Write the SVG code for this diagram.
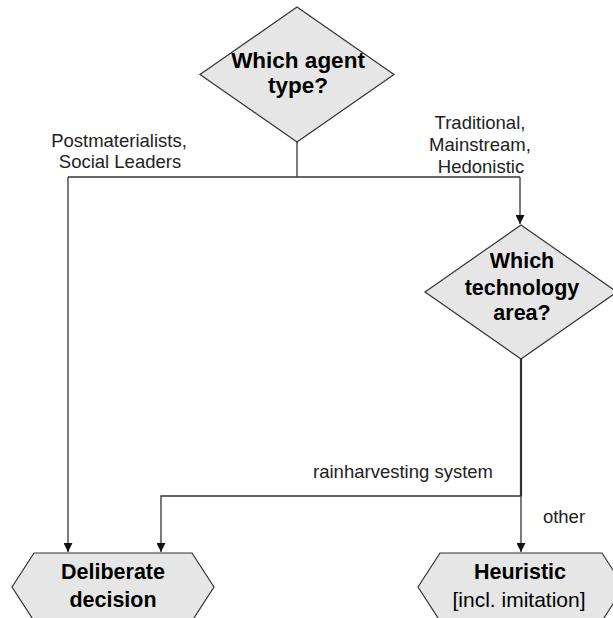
<svg xmlns="http://www.w3.org/2000/svg" width="613" height="618" viewBox="0 0 613 618">
<style>
.shape{fill:#e6e6e6;stroke:#333;stroke-width:1.2}
.b{font-family:"Liberation Sans",Arial,sans-serif;font-weight:bold;font-size:21.5px;fill:#000;text-anchor:middle}
.r{font-family:"Liberation Sans",Arial,sans-serif;font-size:21px;fill:#000;text-anchor:middle}
.l{font-family:"Liberation Sans",Arial,sans-serif;font-size:18.5px;fill:#222;text-anchor:middle}
.c{fill:none;stroke:#333;stroke-width:1.3}
</style>
<defs>
<marker id="ah" viewBox="0 0 10 10" refX="10" refY="5" markerWidth="9" markerHeight="9" markerUnits="userSpaceOnUse" orient="auto">
<path d="M0,0 L10,5 L0,10 Z" fill="#111"/>
</marker>
</defs>
<rect width="613" height="618" fill="#fff"/>
<g id="connectors">
<line class="c" x1="297" y1="142" x2="297" y2="177"/>
<line class="c" x1="68" y1="177" x2="520" y2="177"/>
<line class="c" x1="68" y1="177" x2="68" y2="552" marker-end="url(#ah)"/>
<line class="c" x1="520" y1="177" x2="520" y2="224" marker-end="url(#ah)"/>
<line class="c" x1="521" y1="359" x2="521" y2="496" style="stroke-width:2.2"/>
<line class="c" x1="521" y1="496" x2="521" y2="552" marker-end="url(#ah)"/>
<polyline class="c" points="521,496 161,496 161,552" marker-end="url(#ah)"/>
<text class="l" x="119" y="147">Postmaterialists,</text>
<text class="l" x="120" y="168">Social Leaders</text>
<text class="l" x="480" y="129">Traditional,</text>
<text class="l" x="480" y="151">Mainstream,</text>
<text class="l" x="481" y="173">Hedonistic</text>
<text class="l" x="493" y="478" style="text-anchor:end">rainharvesting system</text>
<text class="l" x="564" y="523">other</text>
</g>
<g id="agent-type">
<polygon class="shape" points="297,7 394,74.5 297,142 200,74.5"/>
<text class="b" x="298" y="68" style="font-size:22.5px">Which agent</text>
<text class="b" x="298" y="93" style="font-size:22.5px">type?</text>
</g>
<g id="technology-area">
<polygon class="shape" points="521,225 617,292 521,359 425,292"/>
<text class="b" x="522" y="268">Which</text>
<text class="b" x="522" y="295">technology</text>
<text class="b" x="522" y="320">area?</text>
</g>
<g id="deliberate">
<polygon class="shape" points="12,587 34,553 192,553 214,587 192,621 34,621"/>
<text class="b" x="113" y="579">Deliberate</text>
<text class="b" x="113" y="607">decision</text>
</g>
<g id="heuristic">
<polygon class="shape" points="418,587 440,553 602,553 624,587 602,621 440,621"/>
<text class="b" x="520" y="579">Heuristic</text>
<text class="r" x="519" y="607">[incl. imitation]</text>
</g>
</svg>
